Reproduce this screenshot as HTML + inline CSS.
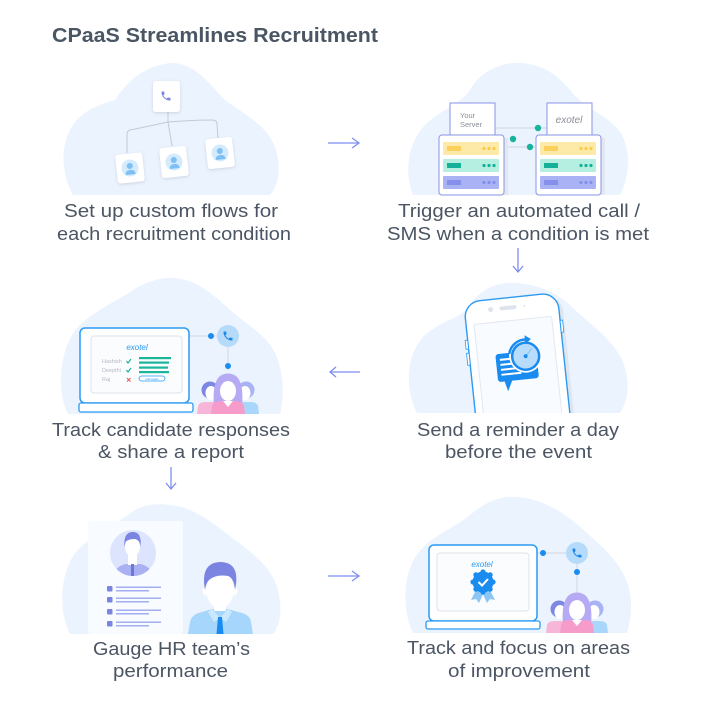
<!DOCTYPE html>
<html><head><meta charset="utf-8"><style>
html,body{margin:0;padding:0;background:#fff;}
svg{display:block;}
text{font-family:"Liberation Sans",sans-serif;}
</style></head><body>
<svg width="703" height="703" viewBox="0 0 703 703" xmlns="http://www.w3.org/2000/svg" xmlns:xlink="http://www.w3.org/1999/xlink">
<defs>
<symbol id="ph" viewBox="0 0 24 24"><path d="M6.62 10.79c1.44 2.83 3.76 5.14 6.59 6.59l2.2-2.2c.27-.27.67-.36 1.02-.24 1.12.37 2.33.57 3.57.57.55 0 1 .45 1 1V20c0 .55-.45 1-1 1-9.39 0-17-7.61-17-17 0-.55.45-1 1-1h3.5c.55 0 1 .45 1 1 0 1.25.2 2.45.57 3.57.11.35.03.74-.25 1.02l-2.2 2.2z"/></symbol>
<filter id="sh" x="-30%" y="-30%" width="160%" height="160%"><feDropShadow dx="0" dy="1" stdDeviation="1.5" flood-color="#8a96ad" flood-opacity="0.35"/></filter>
<clipPath id="c4"><rect x="400" y="270" width="240" height="143"/></clipPath>
<clipPath id="cav"><circle cx="133" cy="553" r="23"/></clipPath>
<g id="team">
 <path d="M-31,41 L-30,33 Q-29,29 -22,29 L-14,29 Q-8,29 -7,33 L-6,41Z" fill="#f7b6d8"/>
 <circle cx="-18" cy="17" r="8.5" fill="#7e88e2"/>
 <ellipse cx="-17" cy="20" rx="5.5" ry="7" fill="#fff"/>
 <path d="M6,41 L7,33 Q8,29 14,29 L22,29 Q29,29 30,33 L31,41Z" fill="#a9d7fb"/>
 <circle cx="18" cy="17" r="8.5" fill="#a9b2f5"/>
 <ellipse cx="17" cy="20" rx="5.5" ry="7" fill="#fff"/>
 <path d="M-14,32 Q-16,10 -8,3 Q0,-2 8,3 Q16,10 14,32 Z" fill="#b5aaf3"/>
 <ellipse cx="0" cy="18" rx="8" ry="10" fill="#fff"/>
 <path d="M-17,41 L-16,33 Q-15,28 -7,28 L7,28 Q15,28 16,33 L17,41 Z" fill="#f59ccb"/>
 <path d="M-5,28 L0,34 L5,28 Z" fill="#fff"/>
</g>
<g id="pers">
 <circle cx="0" cy="0" r="8.5" fill="#d4eafd"/>
 <circle cx="0" cy="-2" r="3" fill="#7dc1f4"/>
 <path d="M-5,6.5 Q-5,2 0,2 Q5,2 5,6.5 Z" fill="#7dc1f4"/>
</g>
</defs>

<!-- Title -->
<text x="52" y="42" font-size="20" font-weight="bold" fill="#4a5664" textLength="326" lengthAdjust="spacingAndGlyphs">CPaaS Streamlines Recruitment</text>

<!-- Blobs -->
<g fill="#ebf3fe">
<path d="M73,195 C62,175 60,150 70,130 C80,110 100,105 115,100 C125,85 140,67 170,63 C195,62 210,85 225,100 C245,115 268,125 276,150 C282,170 278,185 270,195 Z"/>
<path d="M413,195 C405,175 406,145 425,125 C440,110 460,105 470,90 C480,72 500,62 520,63 C540,64 555,72 570,90 C585,110 610,115 622,135 C632,155 628,180 620,195 Z"/>
<path d="M68,414 C58,395 58,360 72,335 C85,315 110,305 130,292 C145,282 160,277 175,278 C195,280 210,292 225,305 C245,325 270,335 278,360 C285,385 283,400 280,414 Z"/>
<path d="M417,413 C405,390 405,355 425,335 C445,318 460,320 470,305 C480,290 495,282 515,283 C540,285 555,292 570,305 C590,325 615,340 624,365 C632,390 625,405 620,413 Z"/>
<path d="M70,634 C58,610 60,575 75,553 C90,535 115,525 135,510 C148,503 160,504 170,505 C195,507 215,525 235,540 C255,555 275,570 279,595 C283,615 278,628 273,634 Z"/>
<path d="M413,633 C402,610 402,575 418,553 C432,535 455,528 470,515 C485,502 500,496 515,497 C540,498 560,510 578,525 C600,545 620,560 628,585 C634,605 630,622 627,633 Z"/>
</g>

<!-- Panel 1 -->
<path d="M168,112 L168,122 M168,122 Q150,126 130,130 Q127,131 127,134 L127,153 M168,122 L172,146 M168,122 Q195,120 212,120 Q217,120 217,124 L218,138" stroke="#c5cad4" fill="none" stroke-width="1"/>
<rect x="153" y="81" width="27" height="31" rx="3" fill="#fff" filter="url(#sh)"/>
<use xlink:href="#ph" href="#ph" x="160" y="90" width="12" height="12" fill="#7b84e0"/>
<g transform="rotate(-6 130 168)"><rect x="116.5" y="153.5" width="27" height="29" rx="3" fill="#fff" filter="url(#sh)"/><use xlink:href="#pers" href="#pers" x="130" y="168"/></g>
<g transform="rotate(-6 174 162)"><rect x="160.5" y="147" width="27" height="30" rx="3" fill="#fff" filter="url(#sh)"/><use xlink:href="#pers" href="#pers" x="174" y="162"/></g>
<g transform="rotate(-6 220 153)"><rect x="206.5" y="138" width="27" height="30" rx="3" fill="#fff" filter="url(#sh)"/><use xlink:href="#pers" href="#pers" x="220" y="153"/></g>

<!-- Panel 2 -->
<line x1="495" y1="128" x2="547" y2="128" stroke="#d0d5de"/>
<line x1="504" y1="147" x2="536" y2="147" stroke="#d0d5de"/>
<rect x="450" y="103" width="45" height="35" fill="#fff" stroke="#8a93e8"/>
<text x="460" y="118" font-size="7.5" fill="#8a8f9a">Your</text>
<text x="460" y="127" font-size="7.5" fill="#8a8f9a">Server</text>
<rect x="547" y="103" width="45" height="35" fill="#fff" stroke="#8a93e8"/>
<text x="569" y="123" font-size="10" fill="#8a8f9a" text-anchor="middle" font-style="italic">exotel</text>
<circle cx="538" cy="128" r="3.2" fill="#18b39a"/>
<circle cx="513" cy="139" r="3.2" fill="#18b39a"/>
<circle cx="530" cy="147" r="3.2" fill="#18b39a"/>
<g id="rack">
<rect x="504" y="138" width="4" height="57" fill="#e3e7ef"/>
<rect x="439" y="135" width="65" height="60" rx="3" fill="#fff" stroke="#8a93e8"/>
<rect x="443" y="142" width="56" height="13" rx="1" fill="#fde9a8"/>
<rect x="447" y="146" width="14" height="5" fill="#fbd15b"/>
<circle cx="484" cy="148.5" r="1.6" fill="#fbcb4a"/><circle cx="489" cy="148.5" r="1.6" fill="#fbcb4a"/><circle cx="494" cy="148.5" r="1.6" fill="#fbcb4a"/>
<rect x="443" y="159" width="56" height="13" rx="1" fill="#b5efe2"/>
<rect x="447" y="163" width="14" height="5" fill="#14b097"/>
<circle cx="484" cy="165.5" r="1.6" fill="#14b097"/><circle cx="489" cy="165.5" r="1.6" fill="#14b097"/><circle cx="494" cy="165.5" r="1.6" fill="#14b097"/>
<rect x="443" y="176" width="56" height="13" rx="1" fill="#a9b2f4"/>
<rect x="447" y="180" width="14" height="5" fill="#8490ea"/>
<circle cx="484" cy="182.5" r="1.6" fill="#8490ea"/><circle cx="489" cy="182.5" r="1.6" fill="#8490ea"/><circle cx="494" cy="182.5" r="1.6" fill="#8490ea"/>
</g>
<use xlink:href="#rack" href="#rack" x="97" y="0"/>

<!-- Panel 3 -->
<line x1="189" y1="336" x2="217" y2="336" stroke="#cfd8e3"/>
<line x1="228" y1="347" x2="228" y2="370" stroke="#cfd8e3"/>
<rect x="80" y="328" width="109" height="75" rx="5" fill="#fff" stroke="#2b9af3" stroke-width="1.5"/>
<rect x="91" y="336" width="91" height="57" rx="3" fill="#fbfcfe" stroke="#dde2ea"/>
<rect x="79" y="403" width="114" height="9" rx="2" fill="#fff" stroke="#2b9af3" stroke-width="1.3"/>
<text x="137" y="350" font-size="8" fill="#2b9af3" text-anchor="middle" font-style="italic">exotel</text>
<text x="102" y="363" font-size="5.5" fill="#b3b9c4">Hashish</text>
<text x="102" y="372" font-size="5.5" fill="#b3b9c4">Deepthi</text>
<text x="102" y="381" font-size="5.5" fill="#b3b9c4">Raj</text>
<polyline points="126.5,361 128,363 131,359" stroke="#1ab59a" stroke-width="1.2" fill="none"/>
<polyline points="126.5,370 128,372 131,368" stroke="#1ab59a" stroke-width="1.2" fill="none"/>
<path d="M127,378 L130.5,381.5 M130.5,378 L127,381.5" stroke="#e85a5a" stroke-width="1.1"/>
<rect x="139" y="357" width="32" height="2.2" fill="#1ab59a"/>
<rect x="139" y="361.5" width="30" height="2.2" fill="#1ab59a"/>
<rect x="139" y="366.5" width="29" height="2.2" fill="#1ab59a"/>
<rect x="139" y="371" width="30" height="2.2" fill="#1ab59a"/>
<rect x="139" y="376" width="26" height="5" rx="2.5" fill="#fff" stroke="#2b9af3" stroke-width="0.8"/>
<text x="152" y="379.8" font-size="3" fill="#2b9af3" text-anchor="middle">Call Again</text>
<circle cx="228" cy="336" r="11" fill="#b5dafa"/>
<use xlink:href="#ph" href="#ph" x="222" y="330" width="12" height="12" fill="#1a88e8"/>
<circle cx="211" cy="336" r="3" fill="#1a8cf0"/>
<circle cx="228" cy="366" r="3" fill="#1a8cf0"/>
<use xlink:href="#team" href="#team" x="228" y="373"/>

<!-- Panel 4 -->
<g clip-path="url(#c4)">
<g transform="rotate(-6 518 360)">
<rect x="474" y="300" width="94" height="170" rx="16" fill="#dfe5ee"/>
<rect x="470" y="297" width="94" height="170" rx="16" fill="#fff" stroke="#2b9af3" stroke-width="1.4"/>
<rect x="467.5" y="335" width="2.5" height="9" fill="#fff" stroke="#2b9af3" stroke-width="0.8"/>
<rect x="467.5" y="348" width="2.5" height="12" fill="#fff" stroke="#2b9af3" stroke-width="0.8"/>
<rect x="564" y="325" width="2.5" height="12" fill="#fff" stroke="#2b9af3" stroke-width="0.8"/>
<rect x="478" y="320" width="78" height="150" rx="2" fill="#f8fbff" stroke="#e3e8ef"/>
<rect x="505" y="305" width="17" height="4" rx="2" fill="#dde3ec"/>
<circle cx="496" cy="307" r="2.5" fill="#dde3ec"/>
<circle cx="530" cy="307" r="1" fill="#dde3ec"/>
<rect x="496" y="352" width="41" height="28" rx="3" fill="#1a8cf0"/>
<polygon points="502,378 511,378 505,390" fill="#1a8cf0"/>
<rect x="500" y="357" width="15" height="2" fill="#fff"/>
<rect x="500" y="362" width="13" height="2" fill="#fff"/>
<rect x="500" y="367" width="15" height="2" fill="#fff"/>
<rect x="500" y="372" width="20" height="2" fill="#fff"/>
<circle cx="526" cy="357" r="16.5" fill="#fff"/>
<circle cx="526" cy="357" r="13.5" fill="#b8dcfb" stroke="#1a8cf0" stroke-width="2.5"/>
<path d="M510,353 A16.5,16.5 0 0 1 528,340.5" stroke="#1a8cf0" stroke-width="2.5" fill="none"/>
<polygon points="527,336 533,340.5 527,345" fill="#1a8cf0"/>
<line x1="526" y1="357" x2="533" y2="350" stroke="#8cc6f5" stroke-width="1.2"/>
<circle cx="526" cy="357" r="2" fill="#1a8cf0"/>
</g>
</g>

<!-- Panel 5 -->
<rect x="88" y="521" width="95" height="113" rx="3" fill="#f8fbff"/>
<circle cx="133" cy="553" r="23" fill="#dce5fd"/>
<g clip-path="url(#cav)">
<path d="M112,580 Q114,566 126,564 L140,564 Q152,566 154,580 Z" fill="#a9b1f3"/>
<rect x="128" y="555" width="9" height="10" fill="#fff"/>
<rect x="131" y="564" width="3" height="14" fill="#6d77d9"/>
<ellipse cx="132.5" cy="547" rx="7.5" ry="9.5" fill="#fff"/>
<path d="M124.5,547 Q123,532 133,532 Q142,532 140.5,547 Q140,540 135,539 Q128,539 125.5,542 Z" fill="#7b84e0"/>
</g>
<g fill="#7b84e0">
<rect x="107" y="586" width="5.5" height="5.5" rx="1"/>
<rect x="107" y="597" width="5.5" height="5.5" rx="1"/>
<rect x="107" y="609" width="5.5" height="5.5" rx="1"/>
<rect x="107" y="621" width="5.5" height="5.5" rx="1"/>
</g>
<g fill="#a3adf1">
<rect x="116" y="586.5" width="45" height="1.5"/><rect x="116" y="590" width="33" height="1.5"/>
<rect x="116" y="597.5" width="45" height="1.5"/><rect x="116" y="601" width="33" height="1.5"/>
<rect x="116" y="609.5" width="45" height="1.5"/><rect x="116" y="613" width="33" height="1.5"/>
<rect x="116" y="621.5" width="45" height="1.5"/><rect x="116" y="625" width="33" height="1.5"/>
</g>
<path d="M188,634 L190,622 Q192,614 202,612 L212,609 L228,609 L238,612 Q250,614 251,622 L253,634 Z" fill="#a6d6fb"/>
<rect x="214" y="600" width="12" height="11" fill="#fff"/>
<path d="M212,609 L220,618 L214,622 L208,612 Z" fill="#cbe8fe"/>
<path d="M228,609 L220,618 L226,622 L232,612 Z" fill="#cbe8fe"/>
<path d="M218,617 L222,617 L223.5,634 L216.5,634 Z" fill="#1a8cf0"/>
<ellipse cx="205" cy="591" rx="2.5" ry="4" fill="#fff"/>
<ellipse cx="235" cy="591" rx="2.5" ry="4" fill="#fff"/>
<ellipse cx="220" cy="590" rx="14" ry="18" fill="#fff"/>
<path d="M205,590 Q200,563 220,562 Q241,562 235,590 Q234,578 228,576 Q216,574 209,580 Q206,583 205,590 Z" fill="#7b84e0"/>

<!-- Panel 6 -->
<line x1="537" y1="553" x2="566" y2="553" stroke="#cfd8e3"/>
<line x1="577" y1="564" x2="577" y2="600" stroke="#cfd8e3"/>
<rect x="429" y="545" width="108" height="76" rx="5" fill="#fff" stroke="#2b9af3" stroke-width="1.5"/>
<rect x="437" y="553" width="92" height="58" rx="3" fill="#fbfcfe" stroke="#dde2ea"/>
<rect x="426" y="621" width="114" height="8" rx="2" fill="#fff" stroke="#2b9af3" stroke-width="1.3"/>
<text x="482" y="567" font-size="8" fill="#2b9af3" text-anchor="middle" font-style="italic">exotel</text>
<polygon points="477,588 471,600 476,599 479,603 484,592" fill="#8cc6f5"/>
<polygon points="489,588 495,600 490,599 487,603 482,592" fill="#8cc6f5"/>
<g fill="#1a8cf0">
<circle cx="483" cy="582" r="10.5"/>
<circle cx="493" cy="582" r="2.6"/><circle cx="490.1" cy="589.1" r="2.6"/><circle cx="483" cy="592" r="2.6"/><circle cx="475.9" cy="589.1" r="2.6"/>
<circle cx="473" cy="582" r="2.6"/><circle cx="475.9" cy="574.9" r="2.6"/><circle cx="483" cy="572" r="2.6"/><circle cx="490.1" cy="574.9" r="2.6"/>
</g>
<polyline points="478.5,582 482,585.5 488,579" stroke="#fff" stroke-width="2" fill="none"/>
<circle cx="577" cy="553" r="11" fill="#b5dafa"/>
<use xlink:href="#ph" href="#ph" x="571" y="547" width="12" height="12" fill="#1a88e8"/>
<circle cx="543" cy="553" r="3" fill="#1a8cf0"/>
<circle cx="577" cy="572" r="3" fill="#1a8cf0"/>
<use xlink:href="#team" href="#team" x="577" y="592"/>
<rect x="540" y="633" width="80" height="5" fill="#fff"/>

<!-- Arrows -->
<g stroke="#7f8ef0" stroke-width="1.3" fill="none">
<line x1="328" y1="143" x2="359" y2="143"/><polyline points="352,138 359,143 352,148"/>
<line x1="518" y1="248" x2="518" y2="272"/><polyline points="513,266 518,272 523,266"/>
<line x1="330" y1="372" x2="360" y2="372"/><polyline points="336,367 330,372 336,377"/>
<line x1="171" y1="467" x2="171" y2="489"/><polyline points="166,483 171,489 176,483"/>
<line x1="328" y1="576" x2="359" y2="576"/><polyline points="352,571 359,576 352,581"/>
</g>

<!-- Labels -->
<g font-size="18" fill="#4b5563">
<text x="64" y="217" textLength="214" lengthAdjust="spacingAndGlyphs">Set up custom flows for</text>
<text x="57" y="240" textLength="234" lengthAdjust="spacingAndGlyphs">each recruitment condition</text>
<text x="398" y="217" textLength="242" lengthAdjust="spacingAndGlyphs">Trigger an automated call /</text>
<text x="387" y="240" textLength="262" lengthAdjust="spacingAndGlyphs">SMS when a condition is met</text>
<text x="52" y="436" textLength="238" lengthAdjust="spacingAndGlyphs">Track candidate responses</text>
<text x="98" y="458" textLength="146" lengthAdjust="spacingAndGlyphs">&amp; share a report</text>
<text x="417" y="436" textLength="202" lengthAdjust="spacingAndGlyphs">Send a reminder a day</text>
<text x="445" y="458" textLength="147" lengthAdjust="spacingAndGlyphs">before the event</text>
<text x="93" y="655" textLength="157" lengthAdjust="spacingAndGlyphs">Gauge HR team’s</text>
<text x="113" y="677" textLength="115" lengthAdjust="spacingAndGlyphs">performance</text>
<text x="407" y="654" textLength="223" lengthAdjust="spacingAndGlyphs">Track and focus on areas</text>
<text x="448" y="677" textLength="142" lengthAdjust="spacingAndGlyphs">of improvement</text>
</g>
</svg>
</body></html>
